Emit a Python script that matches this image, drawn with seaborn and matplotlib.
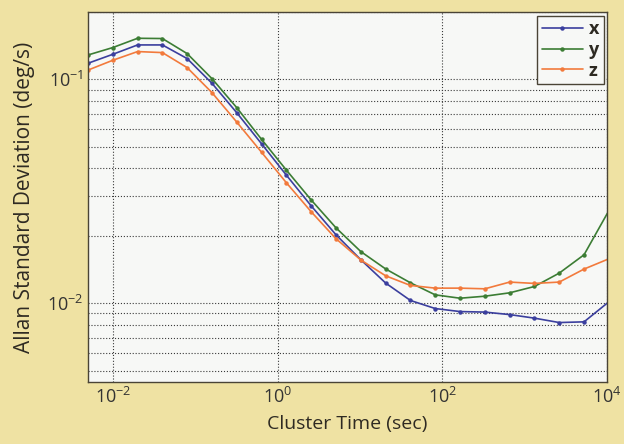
import numpy as np
import pandas as pd
import seaborn as sns
import matplotlib.pyplot as plt
from matplotlib.ticker import (LogLocator, NullFormatter, FixedLocator,
                               NullLocator, LogFormatterSciNotation)

# cluster times (sec), dt = 0.005 doubled each step
tau = [0.005, 0.01, 0.02, 0.04, 0.08, 0.16, 0.32, 0.64, 1.28, 2.56, 5.12,
       10.24, 20.48, 40.96, 81.92, 163.84, 327.68, 655.36, 1310.72,
       2621.44, 5242.88, 10485.76]

adev_x = [0.118, 0.1294, 0.1425, 0.1425, 0.1238, 0.0960, 0.0709, 0.0515,
          0.0373, 0.0272, 0.0202, 0.01563, 0.0123, 0.01028, 0.00946,
          0.00917, 0.00912, 0.00889, 0.00857, 0.00819, 0.00825, 0.01014]
adev_y = [0.1285, 0.1387, 0.1526, 0.1522, 0.1303, 0.1007, 0.0747, 0.0539,
          0.0393, 0.0289, 0.0217, 0.0170, 0.01422, 0.01233, 0.01089,
          0.01052, 0.01074, 0.01112, 0.01187, 0.01362, 0.01645, 0.0259]
adev_z = [0.110, 0.1217, 0.1331, 0.1317, 0.1128, 0.0872, 0.0644, 0.0472,
          0.0345, 0.0256, 0.0194, 0.01559, 0.01325, 0.01200, 0.01167,
          0.01167, 0.01159, 0.01242, 0.01225, 0.01242, 0.0142, 0.01578]

axes_names = ['x', 'y', 'z']
colors = {'x': '#3b3f9e', 'y': '#3c7d34', 'z': '#f27a3c'}

df = pd.concat([
    pd.DataFrame({'tau': tau, 'adev': vals, 'axis': name})
    for name, vals in zip(axes_names, [adev_x, adev_y, adev_z])
])

sns.set_style("white")
plt.rcParams['font.family'] = ['Open Sans', 'DejaVu Sans']
plt.rcParams['mathtext.default'] = 'regular'

fig = plt.figure(figsize=(6.24, 4.44), dpi=100, facecolor='#efe2a3')
ax = fig.add_axes([0.141, 0.14, 0.832, 0.833])
ax.set_facecolor('#f7f8f6')

sns.lineplot(data=df, x='tau', y='adev', hue='axis', palette=colors,
             marker='o', markersize=3.2, markeredgewidth=0, linewidth=1.2,
             ax=ax)

ax.set_xscale('log')
ax.set_yscale('log')
ax.set_xlim(0.005, 1e4)
ax.set_ylim(0.00445, 0.2)

ax.xaxis.set_major_locator(FixedLocator([1e-2, 1e0, 1e2, 1e4]))
ax.xaxis.set_major_formatter(LogFormatterSciNotation())
ax.xaxis.set_minor_locator(NullLocator())
ax.yaxis.set_minor_locator(LogLocator(base=10, subs=np.arange(2, 10), numticks=20))
ax.yaxis.set_minor_formatter(NullFormatter())

ax.grid(True, which='major', axis='both', color='#3a3a3a', linestyle=':', linewidth=0.8)
ax.grid(True, which='minor', axis='y', color='#3a3a3a', linestyle=':', linewidth=0.8)

ax.tick_params(which='both', direction='in', length=4, labelsize=13, colors='#333333')
ax.tick_params(which='minor', length=0)
for sp in ax.spines.values():
    sp.set_color('#4a4436')
    sp.set_linewidth(1.0)

ax.set_xlabel('Cluster Time (sec)', fontsize=14, color='#2e2a22', labelpad=6)
ax.set_ylabel('Allan Standard Deviation (deg/s)', fontsize=15, color='#2e2a22',
              labelpad=8)

leg = ax.legend(title=None, loc='upper right', fontsize=13, frameon=True,
                fancybox=False, edgecolor='#4a4436', borderaxespad=0.2,
                handlelength=2.3, handletextpad=0.3, labelspacing=0.15,
                borderpad=0.25)
leg.get_frame().set_facecolor('#f7f8f6')
leg.get_frame().set_alpha(1)
for t in leg.get_texts():
    t.set_fontweight('bold')
    t.set_color('#2e2a22')

fig.savefig('out.png', dpi=100, facecolor=fig.get_facecolor())
